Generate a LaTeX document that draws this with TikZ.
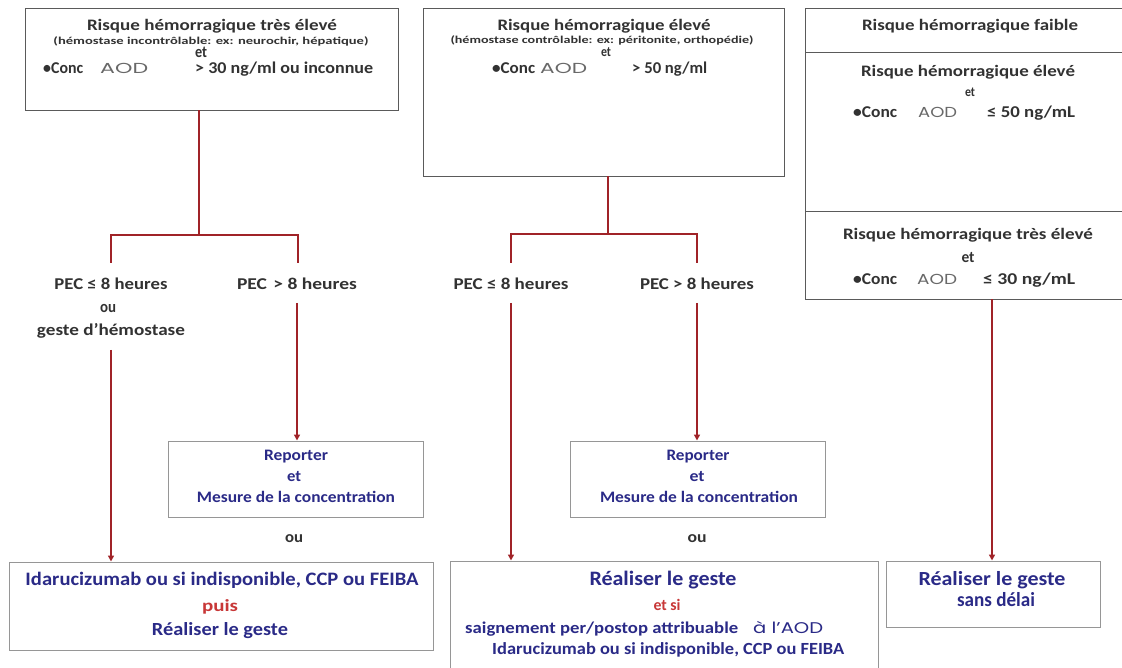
\documentclass[tikz,border=0pt]{standalone}
\usepackage{fontspec}
\usepackage{graphicx}
\setmainfont{Carlito}
\newfontfamily\aodfont{Poppins}
\usetikzlibrary{arrows.meta}
\definecolor{boxdark}{RGB}{90,90,90}
\definecolor{boxlight}{RGB}{150,150,150}
\definecolor{txgray}{RGB}{50,50,50}
\definecolor{aodgray}{RGB}{105,105,105}
\definecolor{navy}{RGB}{42,42,135}
\definecolor{redtx}{RGB}{200,55,55}
\definecolor{linkred}{RGB}{160,35,40}
\newcommand{\fw}[2]{\resizebox{#1pt}{\height}{#2}}
\newcommand{\fsz}[1]{\fontsize{#1pt}{#1pt}\selectfont}
\tikzset{
  topbox/.style={draw=boxdark, line width=0.9pt, inner sep=0pt, fill=white},
  botbox/.style={draw=boxlight, line width=1pt, inner sep=0pt, fill=white},
  tx/.style={inner sep=0pt, anchor=mid, text=txgray},
  txw/.style={inner sep=0pt, anchor=mid west, text=txgray},
  bl/.style={inner sep=0pt, anchor=mid, text=navy},
  blw/.style={inner sep=0pt, anchor=mid west, text=navy},
  rd/.style={inner sep=0pt, anchor=mid, text=redtx},
  aod/.style={inner sep=0pt, anchor=mid west, text=aodgray},
  link/.style={draw=linkred, line width=1.8pt},
  arr/.style={link, -{Triangle[length=6pt,width=6pt]}},
}
\begin{document}
\begin{tikzpicture}[x=1pt,y=-1pt]
\useasboundingbox (0,0) rectangle (1122,668);
\clip (0,0) rectangle (1122,668);
\fill[white] (0,0) rectangle (1122,668);

% ---------- top boxes ----------
\node[topbox, minimum width=373pt, minimum height=102pt] (b1) at (211.5,59) {};
\node[topbox, minimum width=361pt, minimum height=168pt] (b2) at (603.5,92) {};
\node[topbox, minimum width=330pt, minimum height=44pt] (b3a) at (970,30) {};
\node[topbox, minimum width=330pt, minimum height=159pt] (b3b) at (970,131.5) {};
\node[topbox, minimum width=330pt, minimum height=88pt] (b3c) at (970,255) {};

% box 1 texts
\node[tx, font=\fsz{16}\bfseries] (b1t1) at (212,28) {\fw{250}{Risque hémorragique très élevé}};
\node[tx, font=\fsz{10.5}\bfseries] (b1t2) at (211,42) {\fw{315}{(hémostase incontrôlable: ex: neurochir, hépatique)}};
\node[tx, font=\fsz{16.5}\bfseries] (b1t3) at (201,55) {\fw{12}{et}};
\node[txw, font=\fsz{16.5}\bfseries] (b1c1) at (43,71) {\fw{40}{•Conc}};
\node[aod, font=\fsz{14.5}\aodfont] (b1c2) at (100,71) {\fw{48}{AOD}};
\node[txw, font=\fsz{16.5}\bfseries] (b1c3) at (195,71) {\fw{178}{> 30 ng/ml ou inconnue}};

% box 2 texts
\node[tx, font=\fsz{16}\bfseries] (b2t1) at (604,28) {\fw{213}{Risque hémorragique élevé}};
\node[tx, font=\fsz{10.5}\bfseries] (b2t2) at (602,41) {\fw{303}{(hémostase contrôlable: ex: péritonite, orthopédie)}};
\node[tx, font=\fsz{14}\bfseries] (b2t3) at (606,54) {\fw{10}{et}};
\node[txw, font=\fsz{16.5}\bfseries] (b2c1) at (492,71) {\fw{43}{•Conc}};
\node[aod, font=\fsz{14.5}\aodfont] (b2c2) at (540,71) {\fw{47}{AOD}};
\node[txw, font=\fsz{16.5}\bfseries] (b2c3) at (632,71) {\fw{75}{> 50 ng/ml}};

% box 3 texts
\node[tx, font=\fsz{16}\bfseries] (b3t1) at (970,28) {\fw{216}{Risque hémorragique faible}};
\node[tx, font=\fsz{16}\bfseries] (b3t2) at (968,74) {\fw{214}{Risque hémorragique élevé}};
\node[tx, font=\fsz{13.5}\bfseries] (b3t3) at (970,94) {\fw{10}{et}};
\node[txw, font=\fsz{16.5}\bfseries] (b3c1) at (853,115) {\fw{44}{•Conc}};
\node[aod, font=\fsz{14.5}\aodfont] (b3c2) at (918,115) {\fw{39}{AOD}};
\node[txw, font=\fsz{16.5}\bfseries] (b3c3) at (987,115) {\fw{88}{≤ 50 ng/mL}};
\node[tx, font=\fsz{16}\bfseries] (b3t4) at (968,237) {\fw{250}{Risque hémorragique très élevé}};
\node[tx, font=\fsz{16}\bfseries] (b3t5) at (968,260) {\fw{13}{et}};
\node[txw, font=\fsz{16.5}\bfseries] (b3d1) at (853,282) {\fw{44}{•Conc}};
\node[aod, font=\fsz{14.5}\aodfont] (b3d2) at (917,282) {\fw{40}{AOD}};
\node[txw, font=\fsz{16.5}\bfseries] (b3d3) at (983,282) {\fw{92}{≤ 30 ng/mL}};

% ---------- PEC labels ----------
\node[tx, font=\fsz{16.5}\bfseries] (p1a) at (111,287) {\fw{113}{PEC ≤ 8 heures}};
\node[tx, font=\fsz{16.5}\bfseries] (p1b) at (108,310) {\fw{16}{ou}};
\node[tx, font=\fsz{16.5}\bfseries] (p1c) at (111,333) {\fw{148}{geste d’hémostase}};
\node[tx, font=\fsz{16.5}\bfseries] (p2) at (297,287) {\fw{120}{PEC\,\,> 8 heures}};
\node[tx, font=\fsz{16.5}\bfseries] (p3) at (511,287) {\fw{115}{PEC ≤ 8 heures}};
\node[tx, font=\fsz{16.5}\bfseries] (p4) at (697,287) {\fw{114}{PEC > 8 heures}};

% ---------- reporter boxes ----------
\node[botbox, minimum width=255pt, minimum height=76pt] (rep1) at (295.5,479) {};
\node[bl, font=\fsz{16}\bfseries] (r1a) at (296,458) {\fw{64}{Reporter}};
\node[bl, font=\fsz{16}\bfseries] (r1b) at (294,479) {\fw{14}{et}};
\node[bl, font=\fsz{16}\bfseries] (r1c) at (296,500) {\fw{198}{Mesure de la concentration}};
\node[tx, font=\fsz{16}\bfseries] (ou1) at (294,540) {\fw{18}{ou}};

\node[botbox, minimum width=255pt, minimum height=76pt] (rep2) at (697.5,479) {};
\node[bl, font=\fsz{16}\bfseries] (r2a) at (698,458) {\fw{63}{Reporter}};
\node[bl, font=\fsz{16}\bfseries] (r2b) at (697,479) {\fw{15}{et}};
\node[bl, font=\fsz{16}\bfseries] (r2c) at (699,500) {\fw{198}{Mesure de la concentration}};
\node[tx, font=\fsz{16}\bfseries] (ou2) at (697,540) {\fw{19}{ou}};

% ---------- bottom boxes ----------
\node[botbox, minimum width=424pt, minimum height=88pt] (bot1) at (221,606) {};
\node[bl, font=\fsz{19}\bfseries] (d1a) at (222,583) {\fw{393}{Idarucizumab ou si indisponible, CCP ou FEIBA}};
\node[rd, font=\fsz{17}\bfseries] (d1b) at (220,609) {\fw{36}{puis}};
\node[bl, font=\fsz{18.5}\bfseries] (d1c) at (220,633) {\fw{136}{Réaliser le geste}};

\node[botbox, minimum width=428pt, minimum height=130pt] (bot2) at (664,626) {};
\node[bl, font=\fsz{20.5}\bfseries] (d2a) at (663,583) {\fw{147}{Réaliser le geste}};
\node[rd, font=\fsz{16}\bfseries] (d2b) at (667,608) {\fw{27}{et si}};
\node[blw, font=\fsz{16.5}\bfseries] (d2c) at (465,631) {\fw{273}{saignement per/postop attribuable}};
\node[blw, font=\fsz{15.5}\aodfont] (d2d) at (753,631) {\fw{70}{à l’AOD}};
\node[blw, font=\fsz{17}\bfseries] (d2e) at (492,652) {\fw{352}{Idarucizumab ou si indisponible, CCP ou FEIBA}};

\node[botbox, minimum width=214pt, minimum height=66pt] (bot3) at (993,594) {};
\node[bl, font=\fsz{20}\bfseries] (d3a) at (992,583) {\fw{147}{Réaliser le geste}};
\node[bl, font=\fsz{20}\bfseries] (d3b) at (996,604) {\fw{78}{sans délai}};

% ---------- connectors ----------
\coordinate (j1) at (199,235);
\coordinate (j1l) at (111,235);
\coordinate (j1r) at (298,235);
\coordinate (e1l) at (111,263);
\coordinate (e1r) at (298,263);
\draw[link] (b1.south -| j1) -- (j1);
\draw[link, line join=miter] (e1l) -- (j1l) -- (j1r) -- (e1r);
\coordinate (s1) at (111,350);
\draw[arr] (s1) -- (s1 |- bot1.north);
\coordinate (s2) at (297,303);
\draw[arr] (s2) -- (s2 |- rep1.north);

\coordinate (j2) at (608,234);
\coordinate (j2l) at (511,234);
\coordinate (j2r) at (697,234);
\coordinate (e2l) at (511,263);
\coordinate (e2r) at (697,263);
\draw[link] (b2.south -| j2) -- (j2);
\draw[link, line join=miter] (e2l) -- (j2l) -- (j2r) -- (e2r);
\coordinate (s3) at (511,303);
\draw[arr] (s3) -- (s3 |- bot2.north);
\coordinate (s4) at (697,303);
\draw[arr] (s4) -- (s4 |- rep2.north);

\coordinate (s5) at (992,300);
\draw[arr] (s5 |- b3c.south) -- (s5 |- bot3.north);
\end{tikzpicture}
\end{document}
